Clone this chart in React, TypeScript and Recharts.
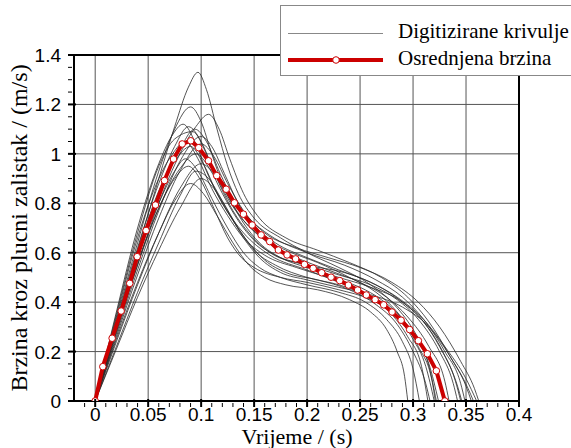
import React from "react";
import { LineChart, Line, XAxis, YAxis, ReferenceLine } from "recharts";

// ---- axis ticks ----
const xMajorTicks = [0, 0.05, 0.1, 0.15, 0.2, 0.25, 0.3, 0.35, 0.4];
const xMinorTicks = [-0.01, 0.01, 0.02, 0.03, 0.04, 0.06, 0.07, 0.08, 0.09, 0.11, 0.12, 0.13, 0.14, 0.16, 0.17, 0.18, 0.19, 0.21, 0.22, 0.23, 0.24, 0.26, 0.27, 0.28, 0.29, 0.31, 0.32, 0.33, 0.34, 0.36, 0.37, 0.38, 0.39];
const yMajorTicks = [0, 0.2, 0.4, 0.6, 0.8, 1, 1.2, 1.4];
const yMinorTicks = [0.05, 0.1, 0.15, 0.25, 0.3, 0.35, 0.45, 0.5, 0.55, 0.65, 0.7, 0.75, 0.85, 0.9, 0.95, 1.05, 1.1, 1.15, 1.25, 1.3, 1.35];
const xGrid = [0, 0.05, 0.1, 0.15, 0.2, 0.25, 0.3, 0.35];
const yGrid = [0.2, 0.4, 0.6, 0.8, 1, 1.2];

// ---- averaged velocity (red) ----
const avgX = [0, 0.0072, 0.016, 0.0245, 0.0326, 0.0396, 0.048, 0.0569, 0.0654, 0.0739, 0.0821, 0.0902, 0.0977, 0.1069, 0.1147, 0.1236, 0.1314, 0.1399, 0.1481, 0.1566, 0.1647, 0.1729, 0.1811, 0.1892, 0.1975, 0.2057, 0.2138, 0.2226, 0.2308, 0.239, 0.2477, 0.2559, 0.2642, 0.2723, 0.2802, 0.2887, 0.2968, 0.305, 0.3135, 0.322, 0.33];
const avgY = [0, 0.139, 0.254, 0.364, 0.476, 0.584, 0.69, 0.793, 0.892, 0.979, 1.04, 1.053, 1.025, 0.972, 0.912, 0.857, 0.802, 0.756, 0.712, 0.672, 0.645, 0.611, 0.591, 0.575, 0.553, 0.537, 0.519, 0.501, 0.487, 0.469, 0.449, 0.429, 0.41, 0.389, 0.36, 0.327, 0.289, 0.244, 0.191, 0.122, 0];

const curve01 = [[0,0],[0.02,0.31],[0.04,0.61],[0.06,0.9],[0.075,1.11],[0.088,1.27],[0.097,1.33],[0.105,1.26],[0.115,1.1],[0.125,0.95],[0.135,0.84],[0.15,0.74],[0.175,0.66],[0.2,0.6],[0.23,0.54],[0.26,0.47],[0.28,0.4],[0.3,0.29],[0.315,0.17],[0.326,0.06],[0.329,0]];
const curve02 = [[0,0],[0.02,0.33],[0.04,0.64],[0.06,0.93],[0.075,1.1],[0.09,1.19],[0.1,1.13],[0.11,1.0],[0.12,0.88],[0.135,0.76],[0.155,0.67],[0.18,0.61],[0.21,0.56],[0.24,0.5],[0.265,0.44],[0.285,0.36],[0.3,0.27],[0.315,0.14],[0.322,0]];
const curve03 = [[0,0],[0.02,0.28],[0.04,0.55],[0.06,0.8],[0.08,1.0],[0.095,1.11],[0.107,1.16],[0.117,1.1],[0.127,0.98],[0.14,0.84],[0.155,0.74],[0.18,0.66],[0.21,0.61],[0.24,0.56],[0.27,0.5],[0.295,0.42],[0.315,0.32],[0.335,0.18],[0.35,0.06],[0.355,0]];
const curve04 = [[0,0],[0.02,0.36],[0.04,0.7],[0.06,0.96],[0.072,1.07],[0.083,1.12],[0.095,1.04],[0.105,0.93],[0.12,0.8],[0.14,0.68],[0.165,0.59],[0.2,0.53],[0.23,0.48],[0.26,0.42],[0.28,0.35],[0.295,0.26],[0.308,0.14],[0.314,0]];
const curve05 = [[0,0],[0.02,0.32],[0.04,0.62],[0.06,0.88],[0.075,1.03],[0.088,1.11],[0.1,1.05],[0.112,0.93],[0.125,0.82],[0.14,0.73],[0.16,0.65],[0.19,0.58],[0.22,0.53],[0.25,0.48],[0.275,0.42],[0.295,0.34],[0.315,0.22],[0.33,0.08],[0.334,0]];
const curve06 = [[0,0],[0.02,0.3],[0.04,0.58],[0.06,0.84],[0.078,1.0],[0.094,1.1],[0.105,1.05],[0.118,0.92],[0.13,0.82],[0.145,0.74],[0.165,0.67],[0.2,0.6],[0.235,0.55],[0.265,0.49],[0.29,0.42],[0.31,0.33],[0.33,0.2],[0.345,0.07],[0.349,0]];
const curve07 = [[0,0],[0.02,0.27],[0.04,0.53],[0.06,0.77],[0.08,0.97],[0.1,1.07],[0.11,1.03],[0.122,0.92],[0.135,0.8],[0.15,0.71],[0.17,0.64],[0.2,0.58],[0.23,0.53],[0.26,0.48],[0.285,0.42],[0.31,0.33],[0.33,0.22],[0.35,0.09],[0.36,0]];
const curve08 = [[0,0],[0.02,0.34],[0.04,0.66],[0.06,0.9],[0.073,1.0],[0.085,1.05],[0.097,0.98],[0.11,0.86],[0.125,0.75],[0.14,0.66],[0.16,0.59],[0.19,0.54],[0.22,0.5],[0.25,0.46],[0.27,0.41],[0.29,0.33],[0.305,0.22],[0.318,0.08],[0.321,0]];
const curve09 = [[0,0],[0.02,0.31],[0.04,0.6],[0.06,0.85],[0.075,0.97],[0.09,1.03],[0.102,0.96],[0.115,0.84],[0.13,0.73],[0.145,0.64],[0.16,0.57],[0.18,0.52],[0.21,0.49],[0.24,0.45],[0.265,0.39],[0.285,0.31],[0.3,0.2],[0.312,0.07],[0.316,0]];
const curve10 = [[0,0],[0.02,0.28],[0.04,0.55],[0.06,0.78],[0.08,0.94],[0.095,1.0],[0.108,0.94],[0.12,0.84],[0.135,0.73],[0.15,0.65],[0.17,0.59],[0.2,0.55],[0.23,0.51],[0.26,0.47],[0.285,0.41],[0.305,0.33],[0.325,0.2],[0.338,0.07],[0.342,0]];
const curve11 = [[0,0],[0.02,0.3],[0.04,0.58],[0.06,0.8],[0.075,0.93],[0.085,0.98],[0.097,0.93],[0.11,0.82],[0.125,0.7],[0.14,0.6],[0.155,0.54],[0.175,0.5],[0.2,0.47],[0.23,0.44],[0.255,0.4],[0.275,0.33],[0.29,0.24],[0.3,0.13],[0.306,0]];
const curve12 = [[0,0],[0.02,0.24],[0.04,0.47],[0.06,0.68],[0.08,0.86],[0.1,0.96],[0.112,0.92],[0.125,0.83],[0.14,0.72],[0.155,0.64],[0.175,0.58],[0.2,0.54],[0.23,0.5],[0.26,0.46],[0.29,0.4],[0.31,0.32],[0.325,0.22],[0.34,0.08],[0.345,0]];
const curve13 = [[0,0],[0.02,0.22],[0.04,0.44],[0.06,0.64],[0.08,0.83],[0.095,0.93],[0.107,0.9],[0.12,0.81],[0.135,0.7],[0.15,0.61],[0.17,0.55],[0.2,0.5],[0.23,0.47],[0.255,0.43],[0.28,0.36],[0.3,0.27],[0.315,0.15],[0.324,0]];
const curve14 = [[0,0],[0.02,0.21],[0.04,0.42],[0.06,0.61],[0.08,0.78],[0.1,0.9],[0.112,0.86],[0.125,0.77],[0.14,0.66],[0.155,0.58],[0.175,0.52],[0.2,0.49],[0.23,0.46],[0.26,0.43],[0.29,0.38],[0.315,0.3],[0.335,0.18],[0.352,0.05],[0.357,0]];
const curve15 = [[0,0],[0.02,0.25],[0.04,0.48],[0.06,0.68],[0.075,0.81],[0.09,0.88],[0.102,0.84],[0.115,0.75],[0.13,0.64],[0.145,0.55],[0.16,0.5],[0.18,0.47],[0.21,0.45],[0.24,0.41],[0.26,0.36],[0.275,0.29],[0.285,0.2],[0.292,0.1],[0.295,0]];
const curve16 = [[0,0],[0.02,0.35],[0.04,0.68],[0.06,0.95],[0.075,1.06],[0.092,1.09],[0.105,1.0],[0.118,0.87],[0.13,0.77],[0.145,0.68],[0.165,0.6],[0.2,0.55],[0.235,0.52],[0.265,0.47],[0.29,0.4],[0.31,0.32],[0.328,0.2],[0.342,0.06],[0.346,0]];
const curve17 = [[0,0],[0.02,0.26],[0.04,0.51],[0.06,0.74],[0.08,0.93],[0.1,1.04],[0.112,0.99],[0.125,0.88],[0.14,0.77],[0.16,0.68],[0.19,0.62],[0.22,0.58],[0.25,0.54],[0.28,0.48],[0.305,0.4],[0.325,0.3],[0.345,0.16],[0.358,0.05],[0.362,0]];
const curve18 = [[0,0],[0.02,0.29],[0.04,0.56],[0.06,0.78],[0.075,0.9],[0.088,0.95],[0.1,0.89],[0.112,0.78],[0.125,0.66],[0.138,0.58],[0.15,0.54],[0.175,0.5],[0.2,0.48],[0.23,0.45],[0.26,0.41],[0.285,0.34],[0.3,0.25],[0.312,0.14],[0.32,0]];

const curves = [curve01, curve02, curve03, curve04, curve05, curve06, curve07, curve08, curve09, curve10, curve11, curve12, curve13, curve14, curve15, curve16, curve17, curve18];

const legendLabels = ["Digitizirane krivulje", "Osrednjena brzina"];
const xTitle = "Vrijeme / (s)";
const yTitle = "Brzina kroz plucni zalistak / (m/s)";

const RED = "#cc0000";
const SANS = "Liberation Sans, Arimo, Arial, Helvetica, sans-serif";
const SERIF = "Liberation Serif, Tinos, Times New Roman, Times, DejaVu Serif, serif";

const avgData = avgX.map((x, i) => ({ x, y: avgY[i] }));
const curveData = curves.map((c) => c.map(([x, y]) => ({ x, y })));
const xAllTicks = [...xMajorTicks, ...xMinorTicks].sort((a, b) => a - b);
const yAllTicks = [...yMajorTicks, ...yMinorTicks].sort((a, b) => a - b);
const isIn = (arr: number[], v: number) => arr.some((t) => Math.abs(t - v) < 1e-9);

const XTick = (props: any) => {
  const { x, y, payload } = props;
  const v = payload.value;
  const major = isIn(xMajorTicks, v);
  return (
    <g>
      <line x1={x} x2={x} y1={y} y2={y - (major ? 8 : 4)} stroke="#000" strokeWidth={major ? 2 : 1} />
      {major && (
        <text x={x} y={y + 13.5} textAnchor="middle" style={{ fontFamily: SANS, fontSize: 19 }} fill="#000">
          {String(v)}
        </text>
      )}
    </g>
  );
};

const YTick = (props: any) => {
  const { x, y, payload } = props;
  const v = payload.value;
  const major = isIn(yMajorTicks, v);
  return (
    <g>
      <line x1={x} x2={x + (major ? 8 : 4)} y1={y} y2={y} stroke="#000" strokeWidth={major ? 2 : 1} />
      {major && (
        <text x={x - 7} y={y} dy={7} textAnchor="end" style={{ fontFamily: SANS, fontSize: 19 }} fill="#000">
          {String(v)}
        </text>
      )}
    </g>
  );
};

export default function App() {
  return (
    <div style={{ position: "absolute", left: 0, top: 0, width: 571, height: 448, background: "#fff", overflow: "hidden" }}>
      <LineChart width={571} height={448} margin={{ top: 55, right: 52, bottom: 0, left: 0 }}>
        <XAxis
          type="number"
          dataKey="x"
          domain={[-0.02, 0.4]}
          ticks={xAllTicks}
          interval={0}
          tickLine={false}
          tickMargin={0}
          tick={(p: any) => <XTick {...p} />}
          height={47}
          axisLine={{ stroke: "#000", strokeWidth: 2 }}
          allowDataOverflow
        />
        <YAxis
          type="number"
          dataKey="y"
          domain={[0, 1.4]}
          ticks={yAllTicks}
          interval={0}
          tickLine={false}
          tickMargin={0}
          tick={(p: any) => <YTick {...p} />}
          width={74}
          axisLine={{ stroke: "#000", strokeWidth: 2 }}
          allowDataOverflow
        />
        {xGrid.map((v) => (
          <ReferenceLine key={"gx" + v} x={v} stroke="#555" strokeWidth={1} />
        ))}
        {yGrid.map((v) => (
          <ReferenceLine key={"gy" + v} y={v} stroke="#555" strokeWidth={1} />
        ))}
        <ReferenceLine y={1.4} stroke="#000" strokeWidth={2} />
        <ReferenceLine x={0.4} stroke="#000" strokeWidth={2} />
        {curveData.map((d, i) => (
          <Line
            key={"c" + i}
            data={d}
            dataKey="y"
            type="monotone"
            stroke="#2a2a2a"
            strokeWidth={0.8}
            dot={false}
            activeDot={false}
            isAnimationActive={false}
          />
        ))}
        <Line
          data={avgData}
          dataKey="y"
          type="linear"
          stroke={RED}
          strokeWidth={4}
          dot={{ r: 3.3, fill: "#fff", stroke: RED, strokeWidth: 1 }}
          activeDot={false}
          isAnimationActive={false}
        />
      </LineChart>
      <svg width={571} height={448} style={{ position: "absolute", left: 0, top: 0, pointerEvents: "none" }}>
        <text x={297} y={443.5} textAnchor="middle" style={{ fontFamily: SERIF, fontSize: 22 }} fill="#000">
          {xTitle}
        </text>
        <text x={27} y={228} transform="rotate(-90 27 228)" textAnchor="middle" style={{ fontFamily: SERIF, fontSize: 24 }} fill="#000">
          {yTitle}
        </text>
        <rect x={280.5} y={5.5} width={300} height={70} fill="#fff" stroke="#888" strokeWidth={1} />
        <line x1={288} x2={383} y1={33.5} y2={33.5} stroke="#888" strokeWidth={1} />
        <line x1={288} x2={383} y1={60} y2={60} stroke={RED} strokeWidth={4} />
        <circle cx={336} cy={60} r={3.3} fill="#fff" stroke={RED} strokeWidth={1} />
        <text x={398} y={38} style={{ fontFamily: SERIF, fontSize: 21 }} fill="#000">
          {legendLabels[0]}
        </text>
        <text x={398} y={65} style={{ fontFamily: SERIF, fontSize: 21 }} fill="#000">
          {legendLabels[1]}
        </text>
      </svg>
    </div>
  );
}
